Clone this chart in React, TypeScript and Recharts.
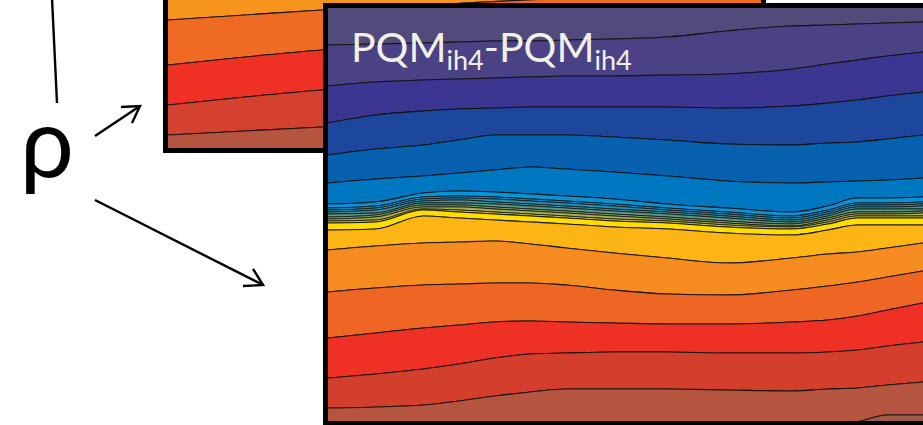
import { AreaChart, Area, XAxis, YAxis } from 'recharts';

// front panel: distance along section (% of visible width) and contour depths
const xs = [0, 8, 16, 22, 28, 34, 40, 48, 57, 67, 78, 84, 89, 94, 100];
const TOP = -5;
const BOTTOM = 420;
const cA = [37, 36, 35, 34, 33, 33, 32, 31, 29, 23, 18, 17, 16, 15, 14];
const cB = [78, 74, 72, 71, 70, 69, 68, 68, 67, 66, 61, 56, 52, 48, 44];
const cC = [115, 107, 103, 101, 100, 99, 99, 99, 99, 100, 98, 95, 92, 88, 84];
const cD = [147, 141, 137, 132, 127, 127, 127, 129, 132, 136, 137, 135, 134, 131, 127];
const cE = [175, 171, 168, 165, 162, 159, 161, 164, 168, 173, 175, 174, 173, 172, 170];
const cF = [196, 194, 185, 183, 184, 186, 188, 191, 196, 200, 204, 198, 190, 190, 189];
const cF1 = [200, 198, 189, 188, 189, 191, 193, 196, 200, 204, 208, 202, 195, 195, 194];
const cL1 = [202, 200, 191, 190, 191, 193, 195, 198, 202, 206, 210, 204, 197, 197, 196];
const cL2 = [204, 202, 193, 192, 194, 196, 198, 201, 204, 208, 212, 206, 199, 199, 198];
const cL3 = [206, 205, 195, 195, 196, 198, 200, 203, 206, 210, 214, 208, 201, 201, 201];
const cL4 = [209, 207, 197, 197, 199, 201, 203, 206, 209, 213, 216, 210, 204, 204, 203];
const cL5 = [211, 209, 199, 199, 201, 203, 205, 208, 211, 215, 218, 212, 206, 206, 205];
const cL6 = [213, 212, 201, 202, 204, 206, 208, 211, 213, 217, 219, 214, 208, 208, 208];
const cYt = [215, 214, 202, 204, 206, 208, 210, 213, 215, 219, 221, 216, 210, 210, 210];
const cY2 = [222, 221, 208, 210, 212, 214, 216, 219, 221, 225, 227, 222, 217, 217, 217];
const cG = [242, 238, 235, 234, 233, 236, 240, 245, 250, 255, 250, 246, 244, 240, 235];
const cH = [284, 280, 277, 276, 275, 275, 277, 282, 286, 287, 282, 278, 274, 269, 263];
const cI = [330, 325, 320, 317, 314, 313, 314, 315, 316, 316, 314, 312, 308, 302, 295];
const cJ = [370, 366, 361, 356, 350, 346, 345, 344, 344, 345, 345, 344, 342, 338, 334];
const cK = [400, 399, 397, 393, 388, 384, 381, 381, 381, 382, 383, 381, 380, 377, 374];
const cM = [420, 420, 420, 420, 420, 420, 420, 420, 420, 420, 420, 420, 414, 407, 407];

const frontBounds = [cA, cB, cC, cD, cE, cF, cF1, cL1, cL2, cL3, cL4, cL5, cL6, cYt, cY2, cG, cH, cI, cJ, cK, cM];
const frontColors = [
  '#524A7A', '#4A4285', '#3A3691', '#1D479C', '#0761AE', '#0078C1', '#0894D9',
  '#1190CF', '#2592B8', '#3E94A0', '#5C9A85', '#7FA36A', '#A7B04E', '#D2C234',
  '#FFDD00', '#FDB515', '#F68B20', '#EE6524', '#EE3124', '#D43E2D', '#B5543F', '#9E5A4D',
];

// back panel (mostly hidden)
const backXs = [0, 13, 26, 50, 75, 100];
const b1 = [115, 110, 105, 98, 91, 85];
const b2 = [160, 152, 145, 137, 131, 125];
const b3 = [200, 192, 185, 177, 171, 165];
const b4 = [230, 226, 222, 215, 210, 205];
const backBounds = [b1, b2, b3, b4];
const backColors = ['#F7941D', '#EF6A23', '#EE3124', '#D4412F', '#B5553F'];

const buildRows = (x: number[], bounds: number[][], bottom: number) =>
  x.map((xv, i) => {
    const row: { [k: string]: number | number[] } = { x: xv };
    const edges = [TOP, ...bounds.map((b) => b[i]), bottom];
    for (let k = 0; k < edges.length - 1; k++) row['l' + k] = [edges[k], edges[k + 1]];
    return row;
  });

const frontRows = buildRows(xs, frontBounds, BOTTOM);
const backRows = buildRows(backXs, backBounds, 260);

const Panel = ({ rows, colors, width, height, depth }: {
  rows: { [k: string]: number | number[] }[],
  colors: string[],
  width: number,
  height: number,
  depth: number
}) => (
  <AreaChart width={width} height={height} data={rows} margin={{ top: 0, right: 0, left: 0, bottom: 0 }}>
    <XAxis dataKey="x" type="number" domain={[0, 100]} allowDataOverflow hide />
    <YAxis type="number" domain={[0, depth]} reversed allowDataOverflow hide />
    {colors.map((c, k) => (
      <Area
        key={k}
        dataKey={'l' + k}
        type="monotoneX"
        fill={c}
        fillOpacity={1}
        stroke="#111"
        strokeWidth={k >= 7 && k <= 13 ? 0.9 : 1.1}
        strokeOpacity={0.9}
        dot={false}
        activeDot={false}
        isAnimationActive={false}
      />
    ))}
  </AreaChart>
);

export default function App() {
  const frame = { position: 'absolute' as const, border: '5px solid #000', boxSizing: 'border-box' as const, background: '#fff', overflow: 'hidden' };
  return (
    <div style={{ position: 'fixed', left: 0, top: 0, width: 923, height: 425, overflow: 'hidden', background: '#fff' }}>
      <div style={{ ...frame, left: 163, top: -100, width: 603, height: 253 }}>
        <Panel rows={backRows} colors={backColors} width={593} height={243} depth={243} />
      </div>
      <div style={{ ...frame, left: 323, top: 3, width: 605, height: 423 }}>
        <Panel rows={frontRows} colors={frontColors} width={595} height={413} depth={413} />
      </div>
      <svg width={923} height={425} style={{ position: 'absolute', left: 0, top: 0, pointerEvents: 'none' }}>
        <g stroke="#000" strokeWidth={2.4} fill="none" strokeLinecap="butt">
          <line x1={52} y1={-2} x2={57} y2={103} />
          <line x1={95} y1={136} x2={140} y2={106} />
          <polyline points="121,107 140,106 132,123" />
          <line x1={95} y1={200} x2={263} y2={285} />
          <polyline points="243,286 263,285 253,269" />
        </g>
        <text x={20} y={177} fontFamily="Lato, 'Open Sans', sans-serif" fontSize={96} fill="#000">ρ</text>
        <text x={351} y={62} fontFamily="Lato, 'Open Sans', sans-serif" fontSize={41} fill="#F2EFE6">
          PQM<tspan fontSize={27} dy={8}>ih4</tspan><tspan fontSize={41} dy={-8}>-PQM</tspan><tspan fontSize={27} dy={8}>ih4</tspan>
        </text>
      </svg>
    </div>
  );
}
